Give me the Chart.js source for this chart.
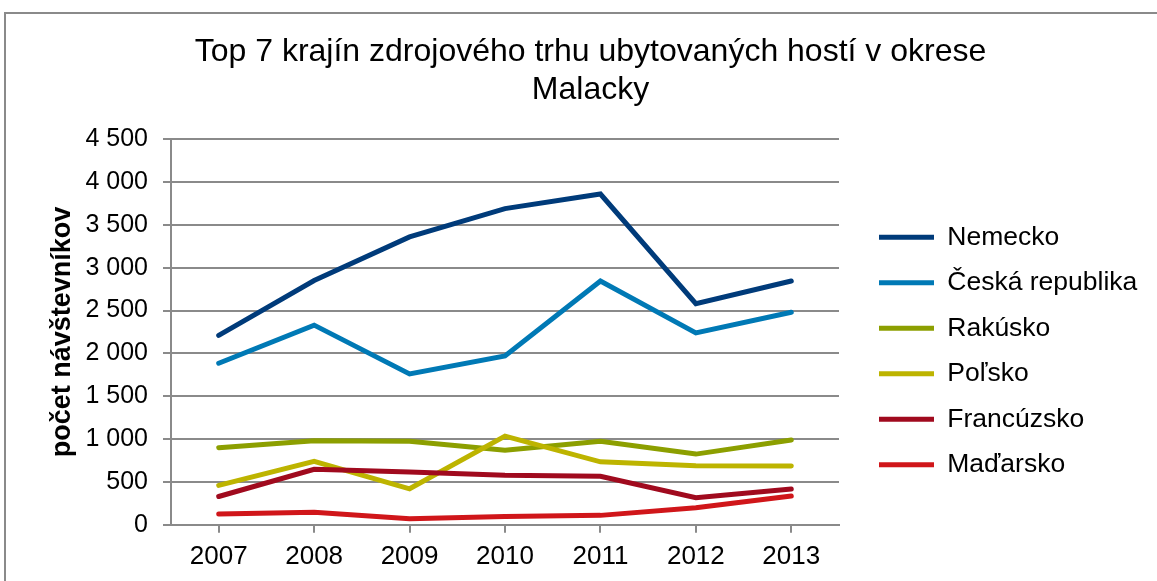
<!DOCTYPE html>
<html>
<head>
<meta charset="utf-8">
<script src="https://cdn.jsdelivr.net/npm/chart.js@4/dist/chart.umd.min.js"></script>
<style>
  html, body { margin: 0; padding: 0; background: #fff; overflow: hidden; }
  #wrap { position: relative; width: 1157px; height: 581px; }
  #frame { position: absolute; left: 4px; top: 12px; width: 1200px; height: 640px; border: 2px solid #8a8a8a; box-sizing: border-box; }
  #chart { position: absolute; left: 0; top: 0; }
</style>
</head>
<body>
<div id="wrap">
  <div id="frame"></div>
  <canvas id="chart" width="1157" height="581"></canvas>
</div>
<script>
// roky na osi x
const years = ['2007', '2008', '2009', '2010', '2011', '2012', '2013'];

// počet návštevníkov podľa krajiny
const nemecko = [2210, 2850, 3360, 3690, 3860, 2580, 2845];
const ceskaRepublika = [1885, 2330, 1760, 1970, 2845, 2240, 2480];
const rakusko = [900, 980, 975, 870, 975, 825, 990];
const polsko = [460, 740, 420, 1035, 735, 690, 685];
const francuzsko = [330, 648, 615, 578, 566, 316, 417];
const madarsko = [125, 145, 70, 97, 110, 200, 335];

const seriesNames = ['Nemecko', 'Česká republika', 'Rakúsko', 'Poľsko', 'Francúzsko', 'Maďarsko'];
const seriesColors = ['#003b7a', '#0079b5', '#8c9f00', '#bdb400', '#a00a1e', '#d0161a'];
const seriesData = [nemecko, ceskaRepublika, rakusko, polsko, francuzsko, madarsko];

// formát čísla s medzerou ako oddeľovačom tisícov
function formatNumber(v) {
    if (v < 1000) return String(v);
    return Math.floor(v / 1000) + ' ' + String(v % 1000).padStart(3, '0');
}

const gridColor = '#8a8a8a';
const FONT = 'Liberation Sans, Arial, sans-serif';

// pevná šírka a poloha legendy vpravo
const legendWidth = 318;
const legendPlacement = {
    id: 'legendPlacement',
    beforeLayout(chart) {
        const lg = chart.legend;
        if (lg && !lg._patched) {
            const origFit = lg.fit.bind(lg);
            lg.fit = function () {
                origFit();
                this.width = legendWidth;
            };
            lg._patched = true;
        }
    },
    afterLayout(chart) {
        const lg = chart.legend;
        if (!lg) return;
        const pad = lg.options.labels.padding;
        const w = lg.width, h = lg.height;
        lg.left = 879 - pad;
        lg.right = lg.left + w;
        lg.top = 224 - pad;
        lg.bottom = lg.top + h;
    }
};

const datasets = seriesNames.map((name, i) => ({
    label: name,
    data: seriesData[i],
    borderColor: seriesColors[i],
    backgroundColor: seriesColors[i],
    borderWidth: 5,
    borderCapStyle: 'round',
    pointRadius: 0,
    pointHoverRadius: 0,
    tension: 0,
    fill: false,
    order: seriesNames.length - i   // neskoršie série kreslíme navrch
}));

new Chart(document.getElementById('chart'), {
    type: 'line',
    data: { labels: years, datasets: datasets },
    plugins: [legendPlacement],
    options: {
        responsive: false,
        animation: false,
        layout: { padding: { left: 24, right: 0, top: 0, bottom: 1 } },
        plugins: {
            tooltip: { enabled: false },
            title: {
                display: true,
                text: ['Top 7 krajín zdrojového trhu ubytovaných hostí v okrese', 'Malacky'],
                color: '#000',
                font: { family: FONT, size: 32, weight: 'normal', lineHeight: 1.19 },
                padding: { top: 33, bottom: 30 }
            },
            legend: {
                position: 'right',
                align: 'start',
                labels: {
                    color: '#000',
                    font: { family: FONT, size: 26.5 },
                    boxWidth: 55,
                    boxHeight: 5,
                    padding: 19,
                    generateLabels: (chart) => chart.data.datasets.map((ds, i) => ({
                        text: ds.label,
                        fillStyle: ds.borderColor,
                        strokeStyle: ds.borderColor,
                        lineWidth: 0,
                        hidden: false,
                        datasetIndex: i
                    }))
                }
            }
        },
        scales: {
            x: {
                offset: true,
                grid: {
                    offset: false,
                    drawOnChartArea: false,
                    color: gridColor,
                    lineWidth: 2,
                    tickLength: 8
                },
                border: { color: gridColor, width: 2 },
                ticks: { color: '#000', font: { family: FONT, size: 26 }, padding: 8, maxRotation: 0 }
            },
            y: {
                min: 0,
                max: 4500,
                afterFit: (scale) => { scale.width = 147; },
                grid: { color: gridColor, lineWidth: 2, tickLength: 8 },
                border: { color: gridColor, width: 2 },
                ticks: {
                    stepSize: 500,
                    color: '#000',
                    font: { family: FONT, size: 25 },
                    padding: 15,
                    callback: (v) => formatNumber(v)
                },
                title: {
                    display: true,
                    text: 'počet návštevníkov',
                    color: '#000',
                    font: { family: FONT, size: 27, weight: 'bold' },
                    padding: { top: 22, bottom: 0 }
                }
            }
        }
    }
});
</script>
</body>
</html>
